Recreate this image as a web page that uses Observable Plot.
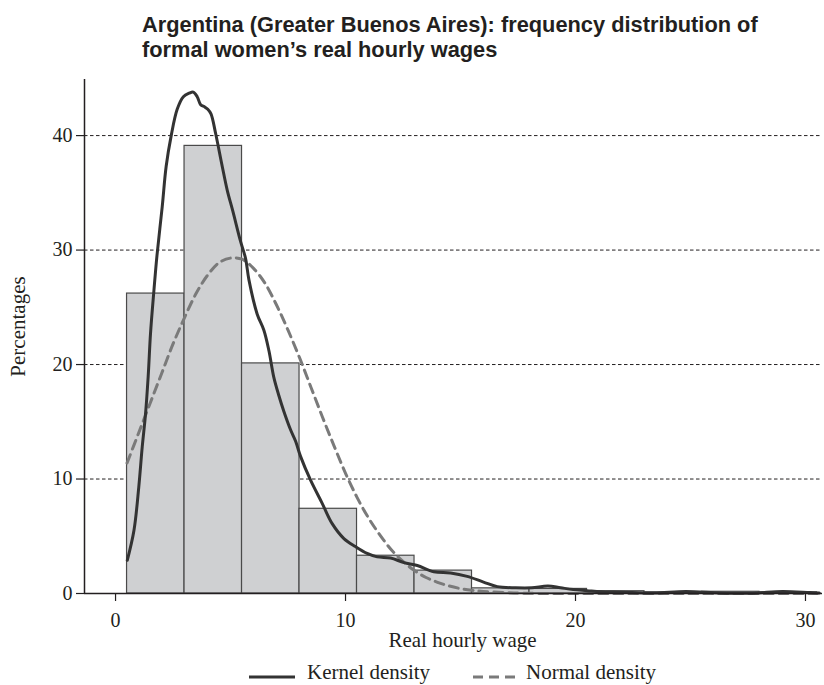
<!DOCTYPE html>
<html>
<head>
<meta charset="utf-8">
<script src="https://cdn.jsdelivr.net/npm/d3@7"></script>
<script src="https://cdn.jsdelivr.net/npm/@observablehq/plot@0.6"></script>
<style>
  body { margin: 0; background: #fff; }
  #wrap { position: relative; width: 824px; height: 685px; overflow: hidden; }
  #title { box-sizing: border-box; height: 70px; padding: 13px 0 0 142px;
    font: bold 21.8px "Liberation Sans", Arial, sans-serif; line-height: 24.6px; color: #231f20; }
  #chart svg { display: block; }
  .lg { position: absolute; font: 21px "Liberation Serif", "Times New Roman", serif; line-height: 21px; color: #231f20; white-space: nowrap; }
  .sw { position: absolute; }
</style>
</head>
<body>
<div id="wrap">
  <div id="title"></div>
  <div id="chart"></div>
  <div id="legend"></div>
</div>
<script>
// ---- Data ----
const titleLines = ["Argentina (Greater Buenos Aires): frequency distribution of", "formal women\u2019s real hourly wages"];
const xLabel = "Real hourly wage";
const yLabel = "Percentages";
const xTicks = [0, 10, 20, 30];
const yTicks = [0, 10, 20, 30, 40];
const gridTicks = [10, 20, 30, 40];

// histogram bins (lower/upper bounds) and percentages
const binLo = [0.5, 3.0, 5.5, 8.0, 10.5, 13.0, 15.5, 18.0, 20.5, 23.0, 25.5, 28.0];
const binHi = [3.0, 5.5, 8.0, 10.5, 13.0, 15.5, 18.0, 20.5, 23.0, 25.5, 28.0, 30.5];
const binPct = [26.2, 39.1, 20.1, 7.4, 3.3, 2.0, 0.45, 0.4, 0.2, 0.1, 0.15, 0.1];

// kernel density curve (read points)
const kernelX = [0.51, 0.80, 1.01, 1.16, 1.30, 1.42, 1.52, 1.67, 1.80, 2.03, 2.20, 2.42, 2.68, 2.95, 3.20, 3.38, 3.55, 3.70, 3.88, 4.01, 4.15, 4.35, 4.64, 4.86, 5.10, 5.43, 5.65, 5.80, 6.16, 6.45, 6.67, 6.88, 7.10, 7.32, 7.61, 7.83, 8.04, 8.48, 8.98, 9.42, 9.93, 10.43, 10.94, 11.38, 11.96, 12.54, 13.12, 13.84, 14.57, 15.29, 16.0, 16.6, 17.4, 18.1, 18.8, 19.35, 19.9, 20.5, 21.1, 22.0, 23.4, 24.8, 26.3, 27.7, 29.0, 30.2, 30.6];
const kernelY = [2.9, 5.5, 9.3, 12.8, 15.6, 19.0, 22.7, 26.5, 29.5, 33.8, 37.3, 40.0, 42.3, 43.4, 43.7, 43.8, 43.4, 42.7, 42.5, 42.3, 41.9, 40.2, 37.3, 35.2, 33.4, 30.8, 29.3, 27.4, 24.4, 23.0, 21.2, 18.9, 17.3, 15.9, 14.3, 13.3, 12.0, 9.9, 7.9, 6.1, 4.8, 4.1, 3.5, 3.2, 3.1, 2.7, 2.45, 1.9, 1.8, 1.5, 1.0, 0.6, 0.5, 0.5, 0.65, 0.5, 0.35, 0.25, 0.15, 0.12, 0.05, 0.18, 0.05, 0.03, 0.18, 0.08, 0.05];

// normal density curve (read points)
const normalX = [0.5, 1.0, 1.5, 2.0, 2.5, 3.0, 3.5, 4.0, 4.5, 5.0, 5.5, 6.0, 6.5, 7.0, 7.5, 8.0, 8.5, 9.0, 9.5, 10.0, 10.5, 11.0, 11.5, 12.0, 12.5, 13.0, 13.5, 14.0, 14.5, 15.0, 15.5, 16.0, 17.0, 18.0, 20.0, 25.0, 30.5];
const normalY = [11.4, 14.0, 16.6, 19.2, 21.8, 24.1, 26.2, 27.8, 28.9, 29.3, 29.2, 28.4, 27.1, 25.2, 23.0, 20.6, 18.0, 15.4, 12.9, 10.5, 8.4, 6.6, 5.1, 3.8, 2.8, 2.0, 1.4, 0.98, 0.66, 0.43, 0.28, 0.18, 0.07, 0.02, 0.0, 0.0, 0.0];

const legendLabels = ["Kernel density", "Normal density"];

// ---- build tables ----
const bars = binLo.map((lo, i) => ({lo, hi: binHi[i], pct: binPct[i]}));
const kernel = kernelX.map((x, i) => ({x, y: kernelY[i]}));
const normal = normalX.map((x, i) => ({x, y: normalY[i]}));

document.getElementById("title").innerHTML = titleLines.join("<br>");

const xDomain = [-1.35, 30.74];
const yDomain = [0, 44.9];
const ink = "#231f20";

const chart = Plot.plot({
  width: 824,
  height: 590,
  marginLeft: 84,
  marginRight: 2,
  marginTop: 9,
  marginBottom: 67,
  style: {fontFamily: '"Liberation Serif", "Times New Roman", serif', fontSize: "20px", color: ink, background: "#fff"},
  x: {domain: xDomain},
  y: {domain: yDomain},
  marks: [
    Plot.ruleY(gridTicks, {stroke: ink, strokeWidth: 1, strokeDasharray: "3.5,2.5"}),
    Plot.rect(bars, {x1: "lo", x2: "hi", y1: 0, y2: "pct", fill: "#cfd0d2", stroke: "#4a4a4a", strokeWidth: 1.2}),
    Plot.line(normal, {x: "x", y: "y", stroke: "#7a7a7a", strokeWidth: 3, strokeDasharray: "9,6", curve: "catmull-rom"}),
    Plot.line(kernel, {x: "x", y: "y", stroke: "#333", strokeWidth: 3, curve: "catmull-rom"}),
    Plot.ruleY([0], {stroke: ink, strokeWidth: 1.5}),
    Plot.ruleX([xDomain[0]], {y1: yDomain[0], y2: yDomain[1], stroke: ink, strokeWidth: 1.5}),
    Plot.axisX({ticks: xTicks, tickSize: 8, tickPadding: 11, fontSize: 20, label: null, strokeWidth: 1.2}),
    Plot.axisY({ticks: yTicks, tickSize: 8, tickPadding: 4, fontSize: 20, label: null, strokeWidth: 1.2}),
    Plot.text([xLabel], {text: d => d, frameAnchor: "bottom", textAnchor: "middle", lineAnchor: "middle", dx: 9, dy: 47, fontSize: 21, fill: ink}),
    Plot.text([yLabel], {text: d => d, frameAnchor: "left", textAnchor: "middle", lineAnchor: "middle", rotate: -90, dx: -66, dy: -10, fontSize: 21, fill: ink})
  ]
});
document.getElementById("chart").appendChild(chart);

// ---- legend below the chart ----
const lg = document.getElementById("legend");
const swatches = [
  {left: 249, width: 46, stroke: "#333", dash: null},
  {left: 473, width: 42, stroke: "#7a7a7a", dash: "10,6"}
];
const textLeft = [307, 526];
legendLabels.forEach((lab, i) => {
  const s = swatches[i];
  const svg = d3.create("svg").attr("class", "sw").attr("width", s.width).attr("height", 6)
    .style("left", s.left + "px").style("top", "674px");
  svg.append("line").attr("x1", 0).attr("x2", s.width).attr("y1", 3).attr("y2", 3)
    .attr("stroke", s.stroke).attr("stroke-width", 3).attr("stroke-dasharray", s.dash);
  lg.appendChild(svg.node());
  const sp = document.createElement("span");
  sp.className = "lg";
  sp.style.left = textLeft[i] + "px";
  sp.style.top = "662px";
  sp.textContent = lab;
  lg.appendChild(sp);
});
</script>
</body>
</html>
